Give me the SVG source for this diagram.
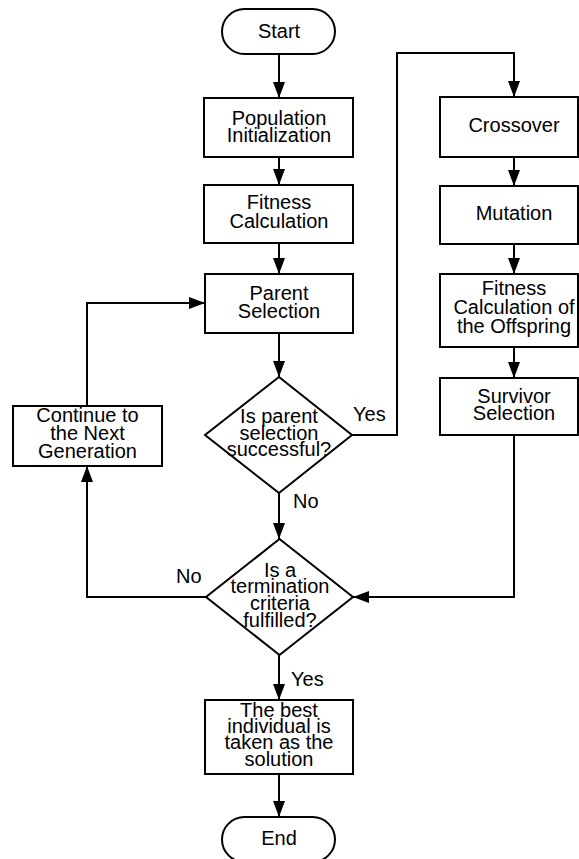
<svg xmlns="http://www.w3.org/2000/svg" width="579" height="859" viewBox="0 0 579 859">
<style>
.box{fill:#fff;stroke:#000;stroke-width:2}
.t{font-family:"Liberation Sans",Arial,sans-serif;font-size:20px;fill:#000;text-anchor:middle}
.l{font-family:"Liberation Sans",Arial,sans-serif;font-size:20px;fill:#000}
.c{fill:none;stroke:#000;stroke-width:2}
</style>
<defs>
<marker id="ah" viewBox="0 0 16 12" refX="16" refY="6" markerWidth="16" markerHeight="12" markerUnits="userSpaceOnUse" orient="auto">
<path d="M0,0 L16,6 L0,12 z" fill="#000"/>
</marker>
</defs>
<rect width="579" height="859" fill="#fff"/>
<g id="connectors">
<path class="c" d="M279,54 V98" marker-end="url(#ah)"/>
<path class="c" d="M279,157 V185" marker-end="url(#ah)"/>
<path class="c" d="M279,243 V274" marker-end="url(#ah)"/>
<path class="c" d="M279,333 V377" marker-end="url(#ah)"/>
<path class="c" d="M279,493 V539" marker-end="url(#ah)"/>
<path class="c" d="M279,655 V700" marker-end="url(#ah)"/>
<path class="c" d="M279,774 V817" marker-end="url(#ah)"/>
<path class="c" d="M352,435 H397 V53 H514 V97" marker-end="url(#ah)"/>
<path class="c" d="M514,157 V186" marker-end="url(#ah)"/>
<path class="c" d="M514,244 V274" marker-end="url(#ah)"/>
<path class="c" d="M514,347 V378" marker-end="url(#ah)"/>
<path class="c" d="M514,435 V597 H353" marker-end="url(#ah)"/>
<path class="c" d="M206,597 H87 V466" marker-end="url(#ah)"/>
<path class="c" d="M87,406 V303 H205" marker-end="url(#ah)"/>
<text class="l" x="353" y="421">Yes</text>
<text class="l" x="293" y="508">No</text>
<text class="l" x="176" y="583">No</text>
<text class="l" x="291" y="686">Yes</text>
</g>
<g id="start">
<rect class="box" x="222" y="9" width="113" height="45" rx="22.5"/>
<text class="t" x="279" y="38">Start</text>
</g>
<g id="population">
<rect class="box" x="204" y="98" width="149" height="59"/>
<text class="t" x="279" y="125">Population</text>
<text class="t" x="279" y="142">Initialization</text>
</g>
<g id="fitness">
<rect class="box" x="204" y="185" width="149" height="58"/>
<text class="t" x="279" y="209">Fitness</text>
<text class="t" x="279" y="228">Calculation</text>
</g>
<g id="parent">
<rect class="box" x="205" y="274" width="148" height="59"/>
<text class="t" x="279" y="300">Parent</text>
<text class="t" x="279" y="318">Selection</text>
</g>
<g id="decision1">
<path class="box" d="M279,377 L352,435 L279,493 L205,435 Z"/>
<text class="t" x="279" y="423">Is parent</text>
<text class="t" x="279" y="440">selection</text>
<text class="t" x="279" y="456">successful?</text>
</g>
<g id="continue">
<rect class="box" x="13" y="406" width="149" height="60"/>
<text class="t" x="87.5" y="422">Continue to</text>
<text class="t" x="87.5" y="440">the Next</text>
<text class="t" x="87.5" y="458">Generation</text>
</g>
<g id="decision2">
<path class="box" d="M279.5,539 L353,597 L279.5,655 L206,597 Z"/>
<text class="t" x="280" y="577">Is a</text>
<text class="t" x="280" y="593">termination</text>
<text class="t" x="280" y="610">criteria</text>
<text class="t" x="280" y="627">fulfilled?</text>
</g>
<g id="crossover">
<rect class="box" x="440" y="97" width="138" height="60"/>
<text class="t" x="514" y="132">Crossover</text>
</g>
<g id="mutation">
<rect class="box" x="440" y="186" width="138" height="58"/>
<text class="t" x="514" y="220">Mutation</text>
</g>
<g id="offspring">
<rect class="box" x="440" y="274" width="138" height="73"/>
<text class="t" x="514" y="295">Fitness</text>
<text class="t" x="514" y="314">Calculation of</text>
<text class="t" x="514" y="333">the Offspring</text>
</g>
<g id="survivor">
<rect class="box" x="440" y="378" width="138" height="57"/>
<text class="t" x="514" y="403">Survivor</text>
<text class="t" x="514" y="420">Selection</text>
</g>
<g id="best">
<rect class="box" x="205" y="700" width="148" height="74"/>
<text class="t" x="279" y="717">The best</text>
<text class="t" x="279" y="733">individual is</text>
<text class="t" x="279" y="749">taken as the</text>
<text class="t" x="279" y="766">solution</text>
</g>
<g id="end">
<rect class="box" x="222" y="817" width="113" height="45" rx="22.5"/>
<text class="t" x="279" y="845">End</text>
</g>
</svg>
